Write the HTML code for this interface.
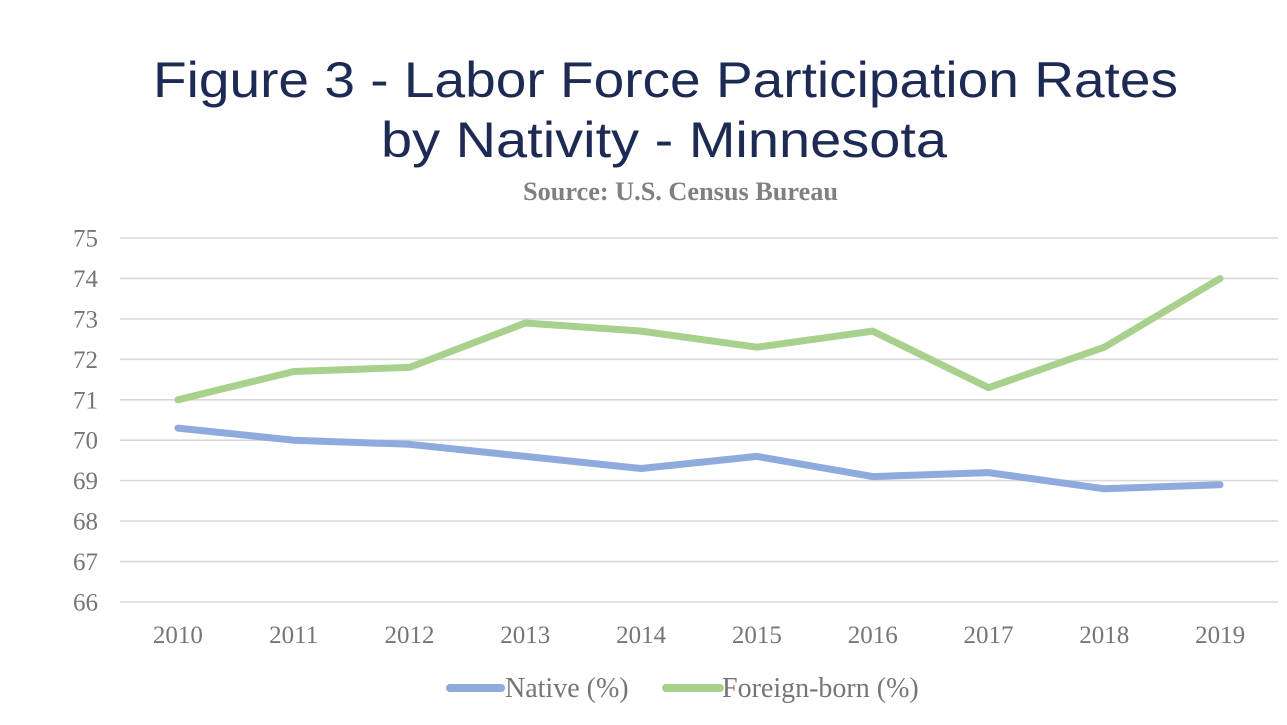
<!DOCTYPE html>
<html>
<head>
<meta charset="utf-8">
<style>
  html, body { margin: 0; padding: 0; background: #ffffff; }
  svg { display: block; }
</style>
</head>
<body>
<svg width="1287" height="725" viewBox="0 0 1287 725" xmlns="http://www.w3.org/2000/svg">
  <rect width="1287" height="725" fill="#ffffff"/>
  <!-- Title -->
  <text x="153" y="97" font-family="Liberation Sans, sans-serif" font-size="50" fill="#1d2a54" textLength="1025" lengthAdjust="spacingAndGlyphs">Figure 3 - Labor Force Participation Rates</text>
  <text x="381" y="157" font-family="Liberation Sans, sans-serif" font-size="50" fill="#1d2a54" textLength="566" lengthAdjust="spacingAndGlyphs">by Nativity - Minnesota</text>
  <text x="523" y="200" font-family="Liberation Serif, serif" font-weight="bold" font-size="26" fill="#808080" textLength="315" lengthAdjust="spacingAndGlyphs">Source: U.S. Census Bureau</text>

  <!-- Gridlines -->
  <g stroke="#d9d9d9" stroke-width="1.6">
    <line x1="120" y1="238" x2="1278" y2="238"/>
    <line x1="120" y1="278.4" x2="1278" y2="278.4"/>
    <line x1="120" y1="318.9" x2="1278" y2="318.9"/>
    <line x1="120" y1="359.3" x2="1278" y2="359.3"/>
    <line x1="120" y1="399.8" x2="1278" y2="399.8"/>
    <line x1="120" y1="440.2" x2="1278" y2="440.2"/>
    <line x1="120" y1="480.6" x2="1278" y2="480.6"/>
    <line x1="120" y1="521.1" x2="1278" y2="521.1"/>
    <line x1="120" y1="561.6" x2="1278" y2="561.6"/>
    <line x1="120" y1="602" x2="1278" y2="602"/>
  </g>

  <!-- Y labels -->
  <g font-family="Liberation Serif, serif" font-size="25" fill="#767676" text-anchor="end">
    <text x="98" y="246.5">75</text>
    <text x="98" y="286.9">74</text>
    <text x="98" y="327.4">73</text>
    <text x="98" y="367.8">72</text>
    <text x="98" y="408.3">71</text>
    <text x="98" y="448.7">70</text>
    <text x="98" y="489.1">69</text>
    <text x="98" y="529.6">68</text>
    <text x="98" y="570.1">67</text>
    <text x="98" y="610.5">66</text>
  </g>

  <!-- X labels -->
  <g font-family="Liberation Serif, serif" font-size="25" fill="#767676" text-anchor="middle">
    <text x="177.9" y="643">2010</text>
    <text x="293.7" y="643">2011</text>
    <text x="409.5" y="643">2012</text>
    <text x="525.3" y="643">2013</text>
    <text x="641.1" y="643">2014</text>
    <text x="756.9" y="643">2015</text>
    <text x="872.7" y="643">2016</text>
    <text x="988.5" y="643">2017</text>
    <text x="1104.3" y="643">2018</text>
    <text x="1220.1" y="643">2019</text>
  </g>

  <!-- Series -->
  <polyline fill="none" stroke="#8faadc" stroke-width="7" stroke-linecap="round" stroke-linejoin="round"
    points="177.9,428.1 293.7,440.2 409.5,444.3 525.3,456.4 641.1,468.5 756.9,456.4 872.7,476.6 988.5,472.6 1104.3,488.8 1220.1,484.7"/>
  <polyline fill="none" stroke="#a9d18e" stroke-width="7" stroke-linecap="round" stroke-linejoin="round"
    points="177.9,399.8 293.7,371.5 409.5,367.4 525.3,323.0 641.1,331.1 756.9,347.2 872.7,331.1 988.5,387.7 1104.3,347.2 1220.1,278.5"/>

  <!-- Legend -->
  <line x1="450" y1="688" x2="501" y2="688" stroke="#8faadc" stroke-width="8" stroke-linecap="round"/>
  <text x="505" y="697" font-family="Liberation Serif, serif" font-size="28" fill="#767676">Native (%)</text>
  <line x1="666" y1="688" x2="720" y2="688" stroke="#a9d18e" stroke-width="8" stroke-linecap="round"/>
  <text x="722" y="697" font-family="Liberation Serif, serif" font-size="28" fill="#767676">Foreign-born (%)</text>
</svg>
</body>
</html>
